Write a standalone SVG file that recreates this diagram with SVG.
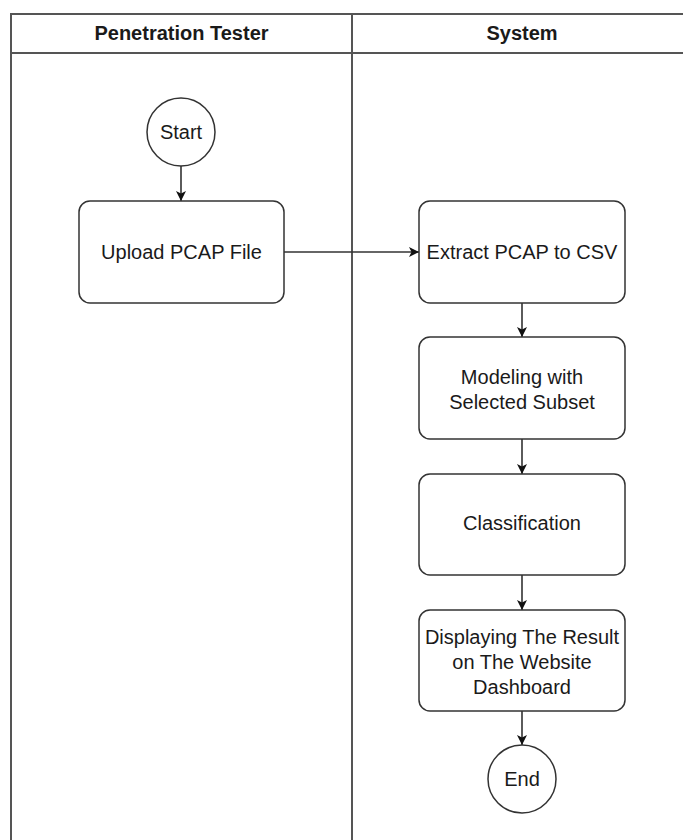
<svg xmlns="http://www.w3.org/2000/svg" width="683" height="840" viewBox="0 0 683 840">
<style>
text{font-family:"Liberation Sans",Arial,sans-serif;font-size:20px;fill:#1a1a1a;text-anchor:middle}
.hdr{font-weight:bold}
.lane{fill:none;stroke:#555;stroke-width:2}
.box{fill:#fff;stroke:#333;stroke-width:1.5}
.edge{fill:none;stroke:#333;stroke-width:1.6}
</style>
<defs>
<marker id="arr" viewBox="0 0 10 10" refX="10" refY="5" markerWidth="10" markerHeight="10" markerUnits="userSpaceOnUse" orient="auto">
<path d="M0,0 L10,5 L0,10 L2.5,5 Z" fill="#111"/>
</marker>
</defs>
<rect width="683" height="840" fill="#fff"/>
<g id="lanes">
<rect class="lane" x="11" y="14" width="682" height="840"/>
<line class="lane" x1="11" y1="53" x2="693" y2="53"/>
<line class="lane" x1="352" y1="14" x2="352" y2="840"/>
<text class="hdr" x="181.5" y="40">Penetration Tester</text>
<text class="hdr" x="522" y="40">System</text>
</g>
<g id="connectors">
<line class="edge" x1="181" y1="166" x2="181" y2="201" marker-end="url(#arr)"/>
<line class="edge" x1="284" y1="252" x2="419" y2="252" marker-end="url(#arr)"/>
<line class="edge" x1="522" y1="303" x2="522" y2="337" marker-end="url(#arr)"/>
<line class="edge" x1="522" y1="439" x2="522" y2="474" stroke-width="2.2" marker-end="url(#arr)"/>
<line class="edge" x1="522" y1="575" x2="522" y2="610" marker-end="url(#arr)"/>
<line class="edge" x1="522" y1="711" x2="522" y2="745" marker-end="url(#arr)"/>
</g>
<g id="start">
<circle class="box" cx="181" cy="132" r="34"/>
<text x="181" y="139">Start</text>
</g>
<g id="upload">
<rect class="box" x="79" y="201" width="205" height="102" rx="11"/>
<text x="181.5" y="259">Upload PCAP File</text>
</g>
<g id="extract">
<rect class="box" x="419" y="201" width="206" height="102" rx="11"/>
<text x="522" y="259">Extract PCAP to CSV</text>
</g>
<g id="modeling">
<rect class="box" x="419" y="337" width="206" height="102" rx="11"/>
<text x="522" y="384">Modeling with</text>
<text x="522" y="409">Selected Subset</text>
</g>
<g id="classification">
<rect class="box" x="419" y="474" width="206" height="101" rx="11"/>
<text x="522" y="530">Classification</text>
</g>
<g id="display">
<rect class="box" x="419" y="610" width="206" height="101" rx="11"/>
<text x="522" y="644">Displaying The Result</text>
<text x="522" y="669">on The Website</text>
<text x="522" y="694">Dashboard</text>
</g>
<g id="end">
<circle class="box" cx="522" cy="779" r="34"/>
<text x="522" y="786">End</text>
</g>
</svg>
